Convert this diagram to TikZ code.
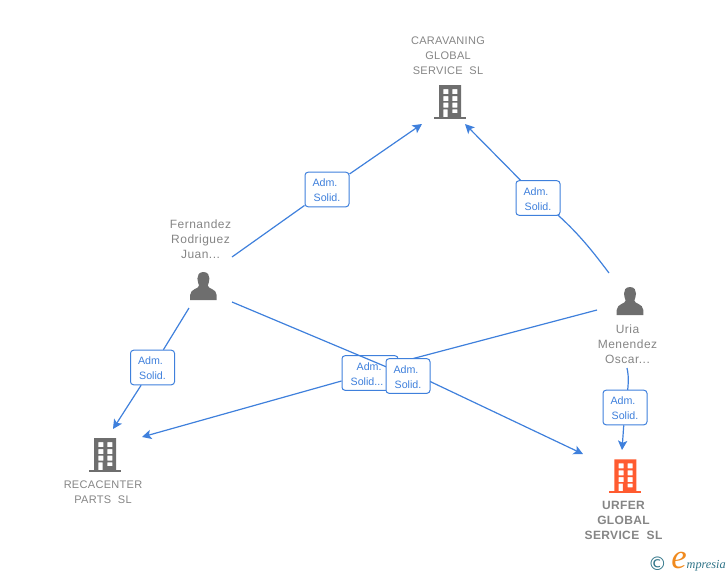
\documentclass[tikz,border=0pt]{standalone}
\usepackage{fontspec}
\setmainfont{Liberation Sans}
\newfontfamily\logofont{Liberation Serif}
\newfontfamily\symfont{DejaVu Sans}
\usetikzlibrary{arrows.meta}
\pgfdeclarelayer{bg}
\pgfdeclarelayer{top}
\pgfsetlayers{bg,main,top}
\definecolor{linkblue}{HTML}{3F80DC}
\definecolor{txtgray}{HTML}{858585}
\definecolor{icongray}{HTML}{6E6E6E}
\definecolor{iconorange}{HTML}{FF5B30}
\definecolor{logoteal}{HTML}{2F7488}
\definecolor{logoorange}{HTML}{F08A1E}
\newcommand{\bldg}[3]{%
  \begin{scope}[shift={(#1,#2)}]
    \fill[#3,even odd rule] (-10.8,0) rectangle (11.2,32)
      (-6.7,4) rectangle (-1.7,9) (2.3,4) rectangle (7.3,9)
      (-6.7,11) rectangle (-1.7,16) (2.3,11) rectangle (7.3,16)
      (-6.7,17.7) rectangle (-1.7,22.7) (2.3,17.7) rectangle (7.3,22.7)
      (-6.7,24.3) rectangle (-2.3,32) (2.3,24.3) rectangle (7.3,28);
    \fill[#3] (-15.8,31.7) rectangle (15.8,34);
  \end{scope}}
\newcommand{\prsn}[3]{%
  \begin{scope}[shift={(#1,#2)}]
    \fill[#3] (0,0) .. controls (-4.5,0) and (-6.2,3.5) .. (-6,6.5)
      .. controls (-5.8,9.5) and (-5,12) .. (-4.4,13.5)
      .. controls (-4.4,17) and (-13,16.5) .. (-13.3,23) -- (-13.3,28) -- (13.3,28) -- (13.3,23)
      .. controls (13,16.5) and (4.4,17) .. (4.4,13.5)
      .. controls (5,12) and (5.8,9.5) .. (6,6.5)
      .. controls (6.2,3.5) and (4.5,0) .. (0,0) -- cycle;
  \end{scope}}
\newcommand{\admtxt}{\rule{0pt}{7.3pt}\hspace*{-3pt}Adm.\\Solid.}
\tikzset{
  x=0.75pt,y=-0.75pt,
  linkbox/.style={draw=linkblue,fill=white,rounded corners=2.25pt,line width=0.75pt,inner sep=0pt,
    text=linkblue,font=\fontsize{8pt}{11.25pt}\selectfont,align=center,minimum height=25.9pt},
  namelbl/.style={text=txtgray,font=\fontsize{8.25pt}{11.25pt}\selectfont\addfontfeatures{LetterSpace=2.7},align=center,inner sep=0pt},
  personlbl/.style={namelbl,font=\fontsize{9pt}{11.25pt}\selectfont\addfontfeatures{LetterSpace=4}},
  link/.style={draw=linkblue,line width=0.9pt},
  linkarrow/.style={link,-{Stealth[length=7pt,width=7pt,inset=1.6pt]}}
}
\begin{document}
\begin{tikzpicture}
\useasboundingbox (0,0) rectangle (728,575);
\bldg{450}{85}{icongray}
\bldg{105}{438}{icongray}
\bldg{625.2}{459.3}{iconorange}
\prsn{203.4}{272}{icongray}
\prsn{630}{287}{icongray}
\node[namelbl] (caravaning) at (448,56) {CARAVANING\\GLOBAL\\SERVICE~~SL};
\node[personlbl] (fernandez) at (200.5,239) {Fernandez\\Rodriguez\\Juan...};
\node[personlbl] (uria) at (627.5,344) {Uria\\Menendez\\Oscar...};
\node[namelbl] (recacenter) at (103,492.5) {RECACENTER\\PARTS~~SL};
\node[namelbl,font=\fontsize{9pt}{11.25pt}\selectfont\bfseries\addfontfeatures{LetterSpace=3}] (urfer) at (623.5,520.5) {URFER\\GLOBAL\\SERVICE~~SL};
\coordinate (fa) at (232,257);
\coordinate (fb) at (189,308);
\coordinate (fc) at (232,302);
\coordinate (ua) at (609,273);
\coordinate (ub) at (597,310);
\coordinate (uc) at (627,368);
\coordinate (ubend) at (400,362);
\coordinate (fout) at (408,371);
\coordinate (caravL) at (422,124);
\coordinate (caravR) at (465,124);
\coordinate (recaT) at (113,429);
\coordinate (recaR) at (142,437);
\coordinate (urfL) at (583,454);
\coordinate (urfT) at (622,450);
\node[linkbox,minimum width=33pt] (b1) at (327,189.5) {\admtxt};
\node[linkbox,minimum width=33pt] (b2) at (538,198) {\admtxt};
\node[linkbox,minimum width=33pt] (b3) at (152.5,367.5) {\admtxt};
\node[linkbox,minimum width=33pt] (b6) at (625,407.5) {\admtxt};
\node[linkbox,minimum width=42pt,text width=40pt,align=left] (b4) at (370,373) {\rule{0pt}{7.3pt}\hspace*{10pt}Adm.\\\hspace*{5.5pt}Solid...};
\begin{pgfonlayer}{top}
\node[linkbox,minimum width=33pt] (b5) at (408,376) {\admtxt};
\end{pgfonlayer}
\begin{pgfonlayer}{bg}
\draw[link] (fa) -- (b1);
\draw[linkarrow] (b1) -- (caravL);
\draw[link] (ua) .. controls (590,248) and (575,228) .. (b2.center);
\draw[linkarrow] (b2) -- (caravR);
\draw[link] (fb) -- (b3);
\draw[linkarrow] (b3) -- (recaT);
\draw[link] (ub) -- (ubend);
\draw[linkarrow] (b4) -- (recaR);
\draw[link] (uc) .. controls (629,378) and (629,384) .. (b6.center);
\draw[linkarrow] (b6) -- (urfT);
\draw[linkarrow] (fout) -- (urfL);
\end{pgfonlayer}
\draw[link] (fc) -- (b5.center);
\node[inner sep=0pt,text=logoteal,font=\symfont\fontsize{14pt}{14pt}\selectfont] (copyr) at (657.5,563.5) {©};
\node[inner sep=0pt,anchor=base west,font=\logofont\itshape\fontsize{9.2pt}{10pt}\selectfont,text=logoteal] (logo) at (671,568)
  {\textcolor{logoorange}{\fontsize{26pt}{26pt}\selectfont e}mpresia};
\end{tikzpicture}
\end{document}
